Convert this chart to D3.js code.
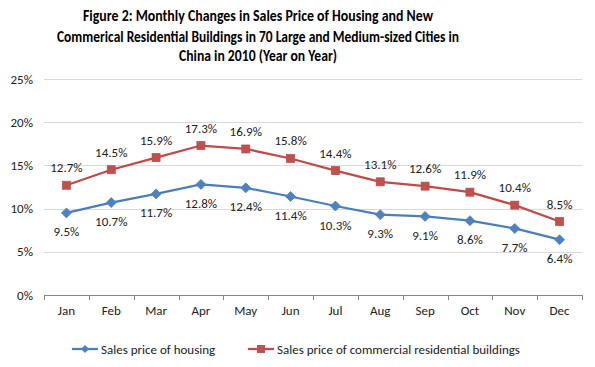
<!DOCTYPE html>
<html><head><meta charset="utf-8">
<script src="https://cdn.jsdelivr.net/npm/d3@7"></script>
<style>body{margin:0;background:#fff}svg{display:block}</style>
</head><body>
<script>
const months = ["Jan","Feb","Mar","Apr","May","Jun","Jul","Aug","Sep","Oct","Nov","Dec"];
const housing = [9.5,10.7,11.7,12.8,12.4,11.4,10.3,9.3,9.1,8.6,7.7,6.4];
const commercial = [12.7,14.5,15.9,17.3,16.9,15.8,14.4,13.1,12.6,11.9,10.4,8.5];
const yTicks = [0,5,10,15,20,25];
const titleLines = ["Figure 2: Monthly Changes in Sales Price of Housing and New",
  "Commerical Residential Buildings in 70 Large and Medium-sized Cities in",
  "China in 2010 (Year on Year)"];
const seriesNames = ["Sales price of housing","Sales price of commercial residential buildings"];

const W=595,H=367;
const font = "Carlito, Calibri, 'Liberation Sans', sans-serif";
const fs = 13;
const svg = d3.select("body").append("svg").attr("width",W).attr("height",H).style("font-family",font);
const x = d3.scaleBand().domain(months).range([44,582]);
const y = d3.scaleLinear().domain([0,25]).range([295,79]);

// title
const tw=[350,402,158];
const tb=[21,42,61];
titleLines.forEach((t,i)=>{
  svg.append("text").attr("x",258).attr("y",tb[i]).attr("text-anchor","middle")
    .attr("font-size",15).attr("font-weight","bold").attr("fill","#000")
    .attr("textLength",tw[i]).attr("lengthAdjust","spacingAndGlyphs").text(t);
});

// gridlines
svg.append("g").selectAll("line").data(yTicks.slice(1)).join("line")
  .attr("x1",44).attr("x2",582).attr("y1",d=>Math.round(y(d))+0.5).attr("y2",d=>Math.round(y(d))+0.5)
  .attr("stroke","#d9d9d9").attr("stroke-width",1);

// y labels
svg.append("g").selectAll("text").data(yTicks).join("text")
  .attr("x",33).attr("y",d=>y(d)+4.5).attr("text-anchor","end").attr("font-size",fs)
  .attr("fill","#222").text(d=>d+"%");

// x axis
const xa = svg.append("g").attr("transform","translate(0,295)")
  .call(d3.axisBottom(x).tickSize(0).tickPadding(0));
xa.select(".domain").remove();
xa.selectAll("text").attr("y",20).attr("dy",0).attr("font-size",fs).attr("fill","#222").style("font-family",font);
svg.append("line").attr("x1",44).attr("x2",582).attr("y1",295.5).attr("y2",295.5).attr("stroke","#868686");
const bounds = months.map(m=>x(m)).concat([582]);
svg.append("g").selectAll("line").data(bounds).join("line")
  .attr("x1",d=>Math.round(d)+0.5).attr("x2",d=>Math.round(d)+0.5).attr("y1",295).attr("y2",300)
  .attr("stroke","#868686");

const cx = m=>x(m)+x.bandwidth()/2;
const line = d3.line().x((d,i)=>cx(months[i])).y(d=>y(d));
const blue="#4A7EBB", red="#BE4B48";

svg.append("path").datum(commercial).attr("d",line).attr("fill","none").attr("stroke",red).attr("stroke-width",2.25);
svg.append("path").datum(housing).attr("d",line).attr("fill","none").attr("stroke",blue).attr("stroke-width",2.25);

svg.append("g").selectAll("rect").data(commercial).join("rect")
  .attr("x",(d,i)=>cx(months[i])-4).attr("y",d=>y(d)-4).attr("width",8).attr("height",8)
  .attr("fill","#C0504D").attr("stroke",red).attr("stroke-width",0.75);
svg.append("g").selectAll("path").data(housing).join("path")
  .attr("d","M0,-5L5,0L0,5L-5,0Z")
  .attr("transform",(d,i)=>`translate(${cx(months[i])},${y(d)})`)
  .attr("fill","#4F81BD").attr("stroke",blue).attr("stroke-width",0.75);

// data labels
svg.append("g").selectAll("text").data(commercial).join("text")
  .attr("x",(d,i)=>cx(months[i])).attr("y",d=>y(d)-13).attr("text-anchor","middle")
  .attr("font-size",fs).attr("fill","#222").text(d=>d.toFixed(1)+"%");
svg.append("g").selectAll("text").data(housing).join("text")
  .attr("x",(d,i)=>cx(months[i])).attr("y",d=>y(d)+23.5).attr("text-anchor","middle")
  .attr("font-size",fs).attr("fill","#222").text(d=>d.toFixed(1)+"%");

// legend
const lg = svg.append("g");
lg.append("line").attr("x1",72).attr("x2",98).attr("y1",349).attr("y2",349).attr("stroke",blue).attr("stroke-width",2.25);
lg.append("path").attr("d","M0,-4L4,0L0,4L-4,0Z").attr("transform","translate(85,349)").attr("fill","#4F81BD");
lg.append("text").attr("x",101).attr("y",353.5).attr("font-size",fs).attr("fill","#222").text(seriesNames[0]);
lg.append("line").attr("x1",248).attr("x2",274).attr("y1",349).attr("y2",349).attr("stroke",red).attr("stroke-width",2.25);
lg.append("rect").attr("x",257).attr("y",345).attr("width",8).attr("height",8).attr("fill","#C0504D");
lg.append("text").attr("x",277).attr("y",353.5).attr("font-size",fs).attr("fill","#222").text(seriesNames[1]);
</script>
</body></html>
